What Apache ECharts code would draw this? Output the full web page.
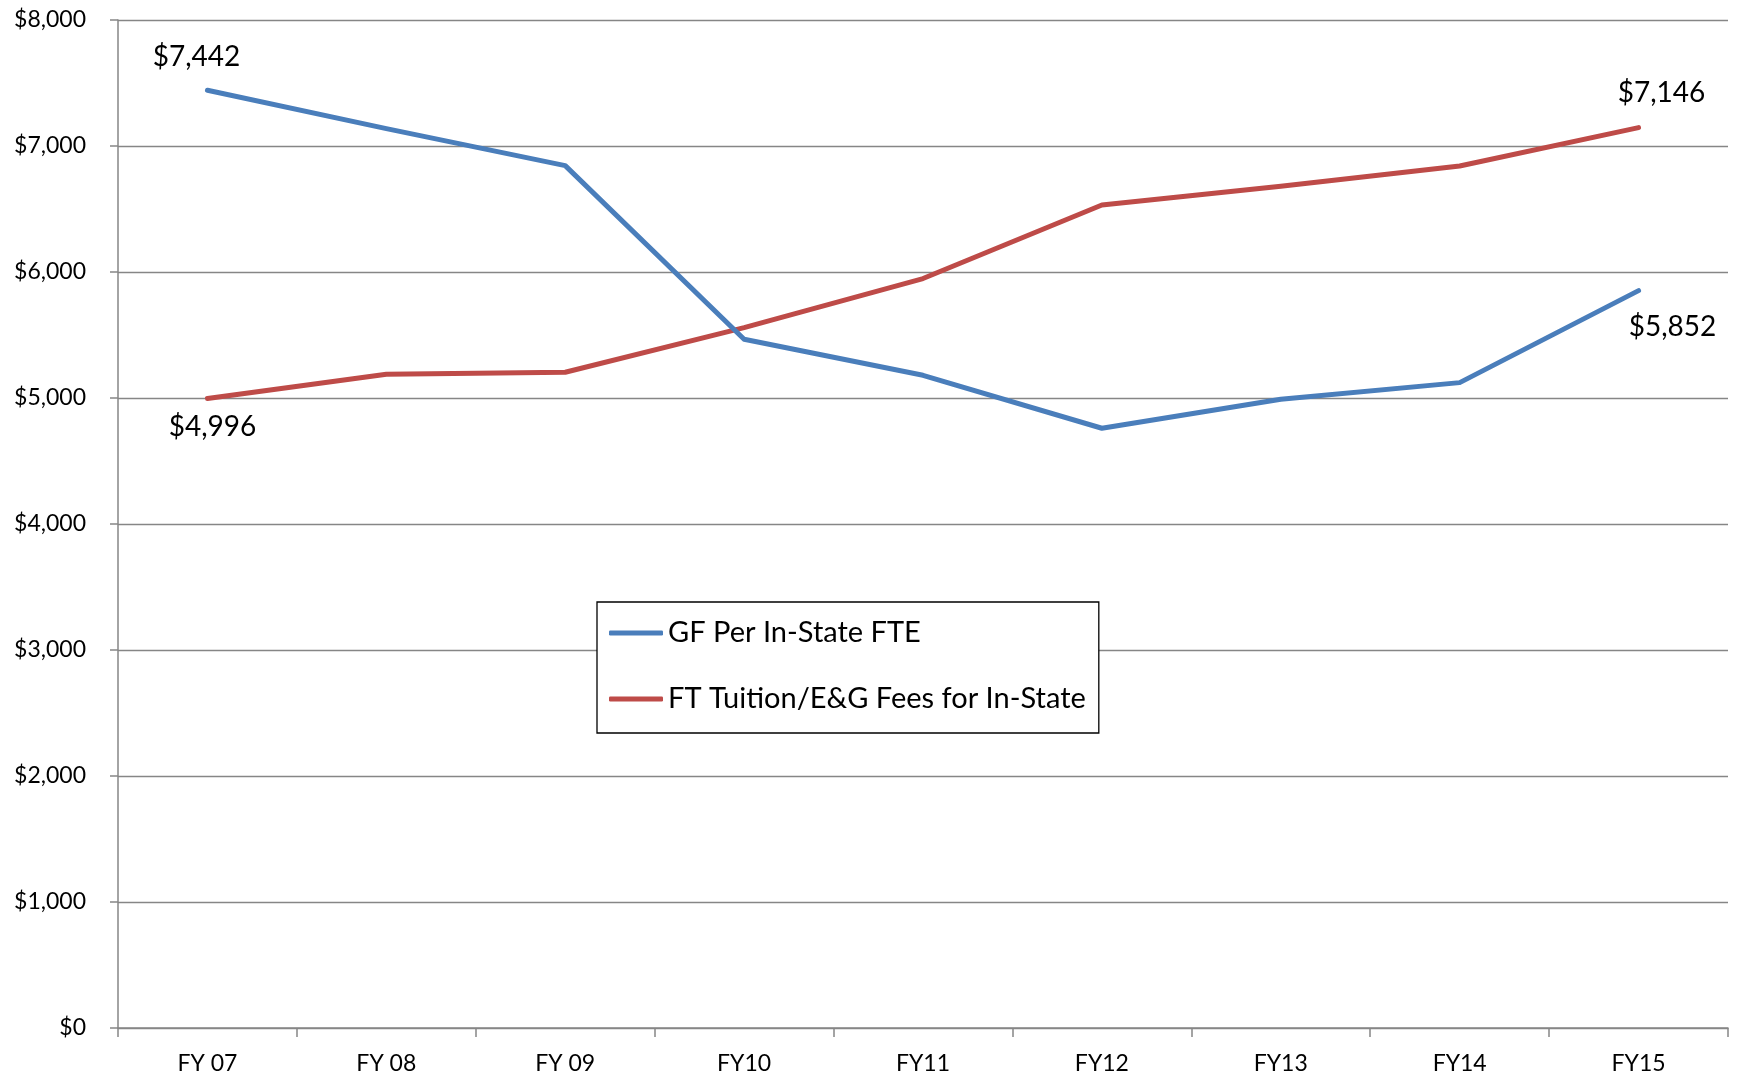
<!DOCTYPE html>
<html>
<head>
<meta charset="utf-8">
<script src="https://cdn.jsdelivr.net/npm/echarts@6/dist/echarts.min.js"></script>
<style>
html,body{margin:0;padding:0;background:#fff;}
#chart{width:1739px;height:1077px;}
</style>
</head>
<body>
<div id="chart"></div>
<script>
const categories = ['FY 07','FY 08','FY 09','FY10','FY11','FY12','FY13','FY14','FY15'];
const gfPerFTE = [7442, 7138, 6844, 5466, 5180, 4760, 4990, 5122, 5852];
const tuitionFees = [4996, 5188, 5204, 5559, 5948, 6532, 6680, 6841, 7146];
const seriesNames = ['GF Per In-State FTE', 'FT Tuition/E&G Fees for In-State'];
const yTicks = [0, 1000, 2000, 3000, 4000, 5000, 6000, 7000, 8000];

const FONT = 'Lato, "Noto Sans", sans-serif';
const fmt = v => '$' + v.toLocaleString('en-US');

// labelled points: index -> offset
const gfLabels = {0: [-11, -33], 8: [34, 36]};
const tuLabels = {0: [5, 28], 8: [23, -35]};

function buildData(values, labels) {
  return values.map((v, i) => {
    if (labels[i]) {
      return {
        value: v,
        label: {
          show: true, position: 'inside', offset: labels[i],
          formatter: p => fmt(p.value),
          color: '#000', fontSize: 28, fontFamily: FONT
        }
      };
    }
    return v;
  });
}

const chart = echarts.init(document.getElementById('chart'));
chart.setOption({
  animation: false,
  backgroundColor: '#fff',
  grid: {left: 118, right: 11, top: 20, bottom: 49, containLabel: false},
  legend: {
    orient: 'vertical',
    left: 597, top: 602,
    padding: [16, 13, 19, 12],
    itemGap: 36,
    itemWidth: 54, itemHeight: 5,
    icon: 'roundRect',
    borderColor: '#000', borderWidth: 1.3,
    backgroundColor: '#fff',
    textStyle: {fontFamily: FONT, fontSize: 29, color: '#000', lineHeight: 30},
    data: seriesNames
  },
  xAxis: {
    type: 'category',
    data: categories,
    boundaryGap: true,
    axisLine: {lineStyle: {color: '#868686', width: 1.5}},
    axisTick: {show: true, length: 9, lineStyle: {color: '#868686', width: 1.5}},
    axisLabel: {fontFamily: FONT, fontSize: 23, color: '#000', margin: 24}
  },
  yAxis: {
    type: 'value',
    min: yTicks[0], max: yTicks[yTicks.length - 1], interval: 1000,
    axisLine: {show: true, lineStyle: {color: '#868686', width: 1.5}},
    axisTick: {show: true, length: 8, lineStyle: {color: '#868686', width: 1.5}},
    splitLine: {show: true, lineStyle: {color: '#868686', width: 1.3}},
    axisLabel: {fontFamily: FONT, fontSize: 23, color: '#000', margin: 32, formatter: v => fmt(v)}
  },
  series: [
    {
      name: seriesNames[0], type: 'line',
      data: buildData(gfPerFTE, gfLabels),
      symbol: 'circle', symbolSize: 1, showSymbol: true,
      color: '#4A7EBB',
      itemStyle: {color: '#4A7EBB'},
      lineStyle: {color: '#4A7EBB', width: 5, cap: 'round', join: 'round'},
      label: {show: false},
      z: 3
    },
    {
      name: seriesNames[1], type: 'line',
      data: buildData(tuitionFees, tuLabels),
      symbol: 'circle', symbolSize: 1, showSymbol: true,
      color: '#BE4B48',
      itemStyle: {color: '#BE4B48'},
      lineStyle: {color: '#BE4B48', width: 5, cap: 'round', join: 'round'},
      label: {show: false},
      z: 2
    }
  ]
});
</script>
</body>
</html>
